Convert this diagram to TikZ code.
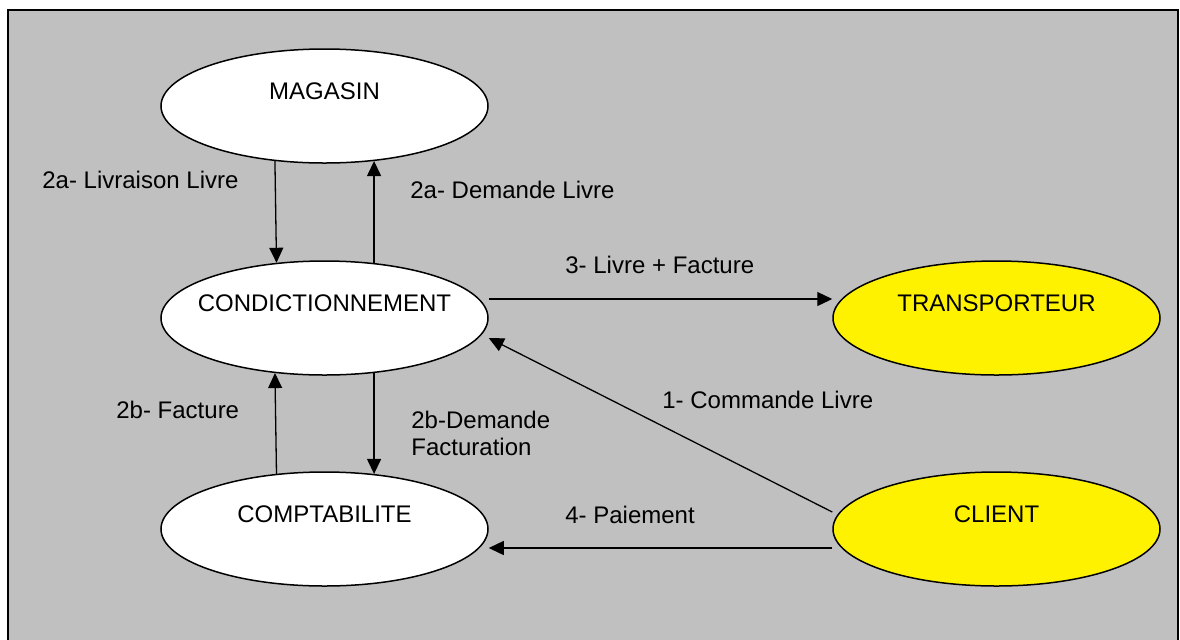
\documentclass[tikz,border=0pt]{standalone}
\usepackage{fontspec}
\setmainfont{Liberation Sans}
\usetikzlibrary{arrows.meta, shapes.geometric}
\definecolor{frameGray}{RGB}{192,192,192}
\tikzset{
    entNode/.style={ellipse, draw=black, fill=white, line width=0.75pt, inner sep=0pt, minimum width=163.5pt, minimum height=57pt},
    extNode/.style={entNode, fill=yellow},
    flowLine/.style={-{Triangle[length=7.5pt, width=7pt]}, line width=0.65pt},
    flowLabel/.style={anchor=west, inner sep=0pt, align=left},
    every node/.style={font=\fontsize{12}{13.5}\selectfont}
}

\begin{document}
\begin{tikzpicture}[x=0.5pt, y=-0.5pt]

        % Canvas and frame
        \useasboundingbox (0,0) rectangle (1180,639);
        \fill[white] (0,0) rectangle (1180,639);
        \clip (0,0) rectangle (1180,639);
        \draw[line width=1pt, fill=frameGray] (8,10) rectangle (1178,660);

        % 1. Entities
        \node[entNode, label={[yshift=7.5pt]center:MAGASIN}] (mag) at (324.5,106) {};
        \node[entNode, label={[yshift=7.5pt]center:CONDICTIONNEMENT}] (cond) at (324.5,318) {};
        \node[entNode, label={[yshift=7.5pt]center:COMPTABILITE}] (compt) at (324.5,529) {};
        \node[extNode, label={[yshift=7.5pt]center:TRANSPORTEUR}] (transp) at (996.5,318) {};
        \node[extNode, label={[yshift=7.5pt]center:CLIENT}] (client) at (996.5,529) {};

        % 2. Flows
        \draw[flowLine] (mag.228.9) -- (cond.131.1);
        \draw[flowLine] (cond.48.3) -- (mag.-48.3);
        \draw[flowLine] ([yshift=9.5pt]cond.east) -- ([yshift=9.5pt]transp.west);
        \draw[flowLine] ([yshift=8.5pt]client.west) -- ([yshift=-10pt]cond.east);
        \draw[flowLine] (compt.131.1) -- (cond.228.9);
        \draw[flowLine] (cond.-48.3) -- (compt.48.3);
        \draw[flowLine] ([yshift=-9.5pt]client.west) -- ([yshift=-9.5pt]compt.east);

        % 3. Flow labels
        \node[flowLabel] (lblLiv) at (42,180) {2a- Livraison Livre};
        \node[flowLabel] (lblDem) at (410,190) {2a- Demande Livre};
        \node[flowLabel] (lblTrans) at (565,265) {3- Livre + Facture};
        \node[flowLabel] (lblCmd) at (662,400) {1- Commande Livre};
        \node[flowLabel] (lblFact) at (116,410) {2b- Facture};
        \node[flowLabel] (lblDemFact) at (411,433.5) {2b-Demande\\Facturation};
        \node[flowLabel] (lblPai) at (565,515) {4- Paiement};

\end{tikzpicture}
\end{document}
